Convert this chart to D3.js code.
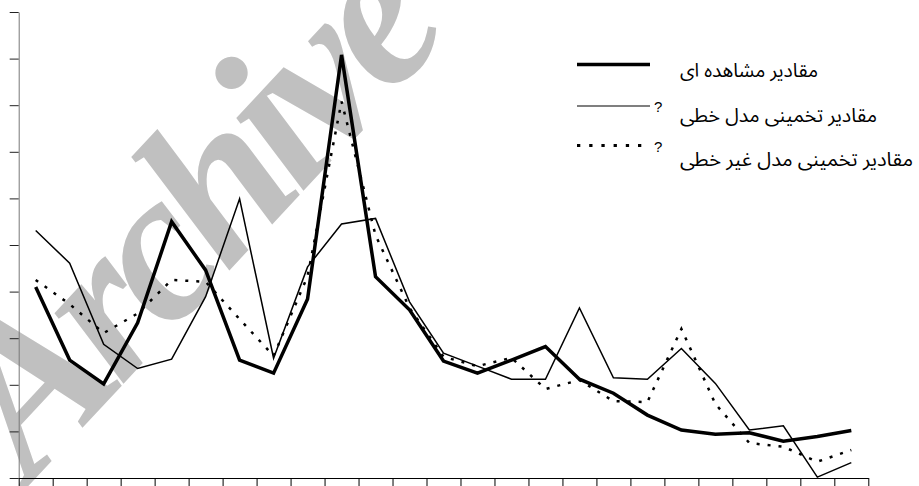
<!DOCTYPE html>
<html>
<head>
<meta charset="utf-8">
<script src="https://cdn.jsdelivr.net/npm/d3@7"></script>
<style>
  html, body { margin: 0; padding: 0; background: #fff; }
  svg { display: block; }
</style>
</head>
<body>
<svg id="chart" width="919" height="486"></svg>
<script>
// ---- data (values in axis-grid units) ----
const categories = [1,2,3,4,5,6,7,8,9,10,11,12,13,14,15,16,17,18,19,20,21,22,23,24,25];
const observed  = [4.10,2.53,2.02,3.33,5.50,4.46,2.53,2.25,3.84,9.08,4.32,3.61,2.51,2.25,2.53,2.82,2.12,1.82,1.35,1.03,0.94,0.97,0.79,0.89,1.02];
const linearEst = [5.31,4.61,2.87,2.35,2.55,3.89,5.99,2.57,4.53,5.45,5.57,3.78,2.68,2.40,2.12,2.12,3.65,2.15,2.12,2.78,2.03,1.03,1.12,0.02,0.33];
const nonlinEst = [4.25,3.73,3.11,3.53,4.25,4.21,3.41,2.62,4.33,8.08,5.21,3.65,2.60,2.40,2.58,1.91,2.10,1.65,1.63,3.20,1.59,0.75,0.67,0.35,0.60];
const yTicks = [0,1,2,3,4,5,6,7,8,9,10];
const seriesNames = ["مقادیر مشاهده ای", "مقادیر تخمینی مدل خطی", "مقادیر تخمینی مدل غیر خطی"];
const watermark = "Archive";

const svg = d3.select("#chart");
const mLeft = 18.7, mRight = 868.3, mTop = 12, mBottom = 478;

const x = d3.scaleBand().domain(categories).range([mLeft, mRight]).padding(0);
const xEdges = d3.scaleLinear().domain([0, categories.length]).range([mLeft, mRight]);
const y = d3.scaleLinear().domain([0, 10]).range([mBottom, mTop]);

// watermark
svg.append("text")
  .attr("transform", "translate(31,483) rotate(-47)")
  .style("font-family", "Liberation Serif")
  .style("font-weight", "bold")
  .style("font-style", "italic")
  .style("font-size", "215px")
  .style("letter-spacing", "-12px")
  .attr("fill", "#c0c0c0")
  .text(watermark);

// axes
const yAxis = svg.append("g")
  .attr("transform", `translate(${mLeft},0)`)
  .call(d3.axisLeft(y).tickValues(yTicks).tickSize(9).tickSizeOuter(0).tickFormat(""));
yAxis.select(".domain").attr("stroke", "#777");
yAxis.selectAll(".tick line").attr("stroke", "#222");

const xAxis = svg.append("g")
  .attr("transform", `translate(0,${mBottom})`)
  .call(d3.axisBottom(xEdges).tickValues(d3.range(0, categories.length + 1)).tickSize(8).tickSizeOuter(0).tickFormat(""));
xAxis.select(".domain").attr("stroke", "#000");
xAxis.selectAll(".tick line").attr("stroke", "#000");

const line = d3.line()
  .x((d, i) => x(categories[i]) + x.bandwidth() / 2)
  .y(d => y(d));

const styles = [
  { data: observed,  width: 3.5, dash: null },
  { data: linearEst, width: 1.5, dash: null },
  { data: nonlinEst, width: 2.5, dash: "3,8" }
];

styles.forEach(s => {
  svg.append("path")
    .datum(s.data)
    .attr("fill", "none")
    .attr("stroke", "#000")
    .attr("stroke-width", s.width)
    .attr("stroke-linejoin", "miter")
    .attr("stroke-dasharray", s.dash)
    .attr("d", line);
});

// legend
const legY = [64.5, 106, 145.5];
const textY = [77, 121.5, 166];
const textW = [138, 197, 233];
const lg = svg.append("g");
styles.forEach((s, i) => {
  lg.append("line")
    .attr("x1", 577).attr("x2", 650)
    .attr("y1", legY[i]).attr("y2", legY[i])
    .attr("stroke", "#000")
    .attr("stroke-width", i === 0 ? 3.5 : (i === 1 ? 1.2 : 3))
    .attr("stroke-dasharray", i === 2 ? "3.3,8.9" : null);
  lg.append("text")
    .attr("x", 680).attr("y", textY[i])
    .style("font-family", "'Noto Sans Arabic', 'DejaVu Sans', sans-serif")
    .style("font-size", "19px")
    .attr("textLength", textW[i])
    .attr("lengthAdjust", "spacingAndGlyphs")
    .attr("fill", "#000")
    .text(seriesNames[i]);
  if (i > 0) {
    lg.append("text")
      .attr("x", 654).attr("y", legY[i] + 6)
      .style("font-family", "'Liberation Sans', Arial, sans-serif")
      .style("font-size", "15px")
      .attr("fill", "#000")
      .text("?");
  }
});
</script>
</body>
</html>
